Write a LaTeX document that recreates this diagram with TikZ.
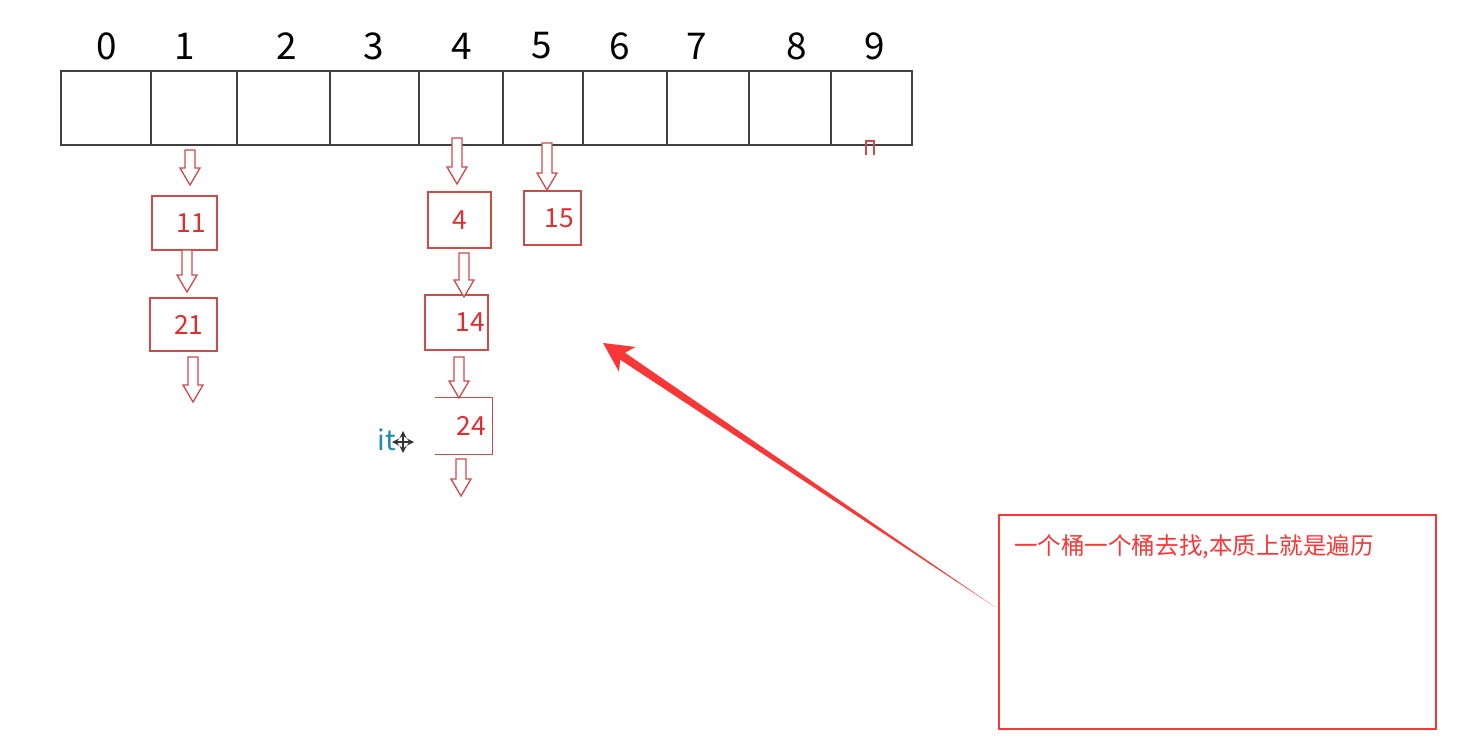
\documentclass[tikz,border=0pt]{standalone}
\usepackage{fontspec}
\newfontfamily\cjk{Noto Sans CJK SC}
\usetikzlibrary{calc,positioning,arrows}
\definecolor{boxred}{RGB}{205, 75, 75}
\definecolor{numred}{RGB}{225, 45, 45}
\definecolor{notered}{RGB}{250, 55, 55}
\definecolor{cursorteal}{RGB}{30, 140, 175}

\begin{document}
\begin{tikzpicture}[
      x=0.02cm, y=-0.02cm,
      cell/.style={rectangle, draw=black!75, line width=1pt, minimum height=1.48cm, inner sep=0pt, anchor=north west},
      idx/.style={font=\cjk\fontsize{21pt}{24pt}\selectfont, text=black},
      bucket/.style={rectangle, draw=boxred, line width=0.75pt, inner sep=0pt, font=\cjk\fontsize{15pt}{17pt}\selectfont, text=numred},
      note/.style={rectangle, draw=notered, line width=1.2pt, minimum width=8.74cm, minimum height=4.28cm, inner sep=0pt},
      pics/downarr/.style={code={
        \draw[boxred, line width=0.75pt, fill=white] (-5,0) -- (-5,#1-17) -- (-10,#1-17) -- (0,#1) -- (10,#1-17) -- (5,#1-17) -- (5,0) -- cycle;
      }}
    ]
      \useasboundingbox (0,0) rectangle (1478,750);

      % array of buckets
      \foreach \l/\r/\lx [count=\i from 0, evaluate=\r as \w using (\r-\l)*0.02] in
        {60/150/107, 150/236/185, 236/329/287, 329/418/374, 418/502/462,
         502/582/542, 582/666/620, 666/748/697, 748/830/797, 830/911/875}
      {
        \node[cell, minimum width=\w cm] (c\i) at (\l,70) {};
        \node[idx] (n\i) at (\lx,46) {\i};
      }
      \draw[boxred, line width=0.6pt] (866,155) -- (866,141) -- (874,141) -- (874,155);

      % chains
      \node[bucket, minimum width=1.30cm, minimum height=1.08cm] (b11) at (184.5,223) {\hspace{8pt}11};
      \node[bucket, minimum width=1.34cm, minimum height=1.06cm] (b21) at (183.5,324.5) {\hspace{6pt}21};
      \node[bucket, minimum width=1.26cm, minimum height=1.12cm] (b4) at (459.5,220) {4};
      \node[bucket, minimum width=1.26cm, minimum height=1.10cm] (b14) at (456.5,322.5) {\hspace{16pt}14};
      \node[bucket, draw=none, minimum width=1.12cm, minimum height=1.12cm] (b24) at (464,426) {\hspace{8pt}24};
      \draw[boxred, line width=0.75pt] (b24.north west) -- (b24.north east) -- (b24.south east) -- (b24.south west);
      \node[bucket, minimum width=1.14cm, minimum height=1.08cm] (b15) at (552.5,218) {\hspace{8pt}15};

      \pic at (190,150) {downarr=35};
      \pic at (187,250) {downarr=42};
      \pic at (193,357) {downarr=45};
      \pic at (457,138) {downarr=46};
      \pic at (464,253) {downarr=44};
      \pic at (459,357) {downarr=41};
      \pic at (461,459) {downarr=37};
      \pic at (547,143) {downarr=47};

      % cursor
      \node[font=\cjk\fontsize{16pt}{18pt}\selectfont, text=cursorteal] (it) at (387,440) {it};
      \coordinate (mv) at (403,442);
      \foreach \dx/\dy in {11/0, -11/0, 0/11, 0/-11}
        \draw[->, >=stealth, black!80, line width=0.8pt] (mv) -- ++(\dx,\dy);

      % note
      \node[note] (box) at (1217.5,622) {};
      \node[font=\cjk\fontsize{13.4pt}{16pt}\selectfont, text=notered, anchor=west] (txt) at (1008,547) {一个桶一个桶去找,本质上就是遍历};

      \coordinate (tip) at (603,343);
      \coordinate (tail) at (995,607);
      \coordinate (hb) at ($(tip)!0.062!(tail)$);
      \coordinate (nt) at ($(tip)!0.05!(tail)$);
      \fill[notered] (tip) -- ($(hb)!8.5pt!90:(tail)$) -- ($(nt)!2.4pt!90:(tail)$) -- (tail)
        -- ($(nt)!2.4pt!-90:(tail)$) -- ($(hb)!8.5pt!-90:(tail)$) -- cycle;
    \end{tikzpicture}
\end{document}
